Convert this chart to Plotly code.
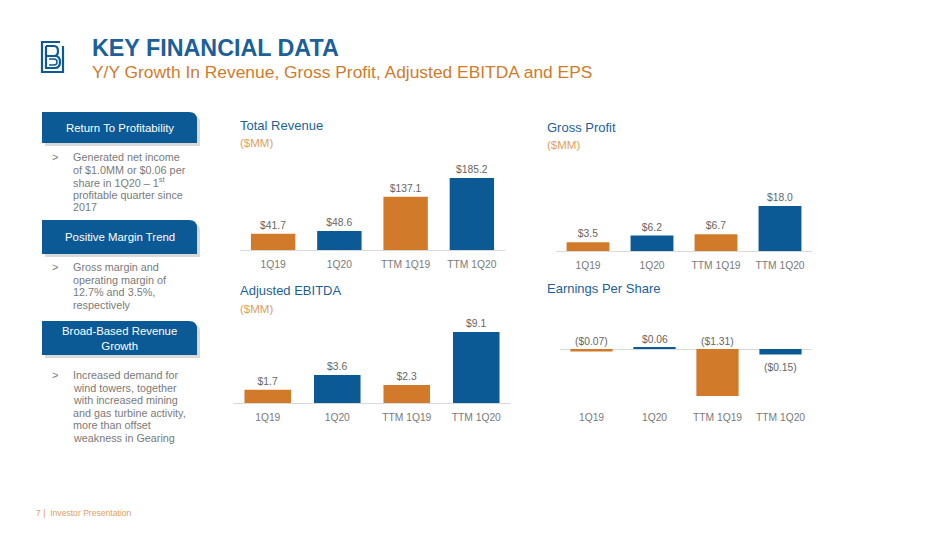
import plotly.graph_objects as go

# the page body has an 8px margin, so the figure is drawn 8px in from the corner
OFF = 8
W, H = 950 - 2 * OFF, 534 - 2 * OFF

# data
periods = ["1Q19", "1Q20", "TTM 1Q19", "TTM 1Q20"]
revenue = [41.7, 48.6, 137.1, 185.2]
gross_profit = [3.5, 6.2, 6.7, 18.0]
adj_ebitda = [1.7, 3.6, 2.3, 9.1]
eps = [-0.07, 0.06, -1.31, -0.15]

panel_heads = ["Return To Profitability", "Positive Margin Trend", "Broad-Based Revenue<br>Growth"]
panel_text = [
    ["Generated net income", "of $1.0MM or $0.06 per", "share in 1Q20 \u2013 1<sup>st</sup>",
     "profitable quarter since", "2017"],
    ["Gross margin and", "operating margin of", "12.7% and 3.5%,", "respectively"],
    ["Increased demand for", "wind towers, together", "with increased mining",
     "and gas turbine activity,", "more than offset", "weakness in Gearing"],
]

BLUE = "#0b5a95"
ORANGE = "#d17b2a"
TITLE_BLUE = "#1c5f99"
GRAY = "#7a7a7a"
FONT = "Liberation Sans, Arial, sans-serif"
bar_colors = [ORANGE, BLUE, ORANGE, BLUE]


# window pixel -> paper coordinates
def px(x):
    return (x - OFF) / W


def py(y):
    return 1 - (y - OFF) / H


def money(v, d=1):
    s = f"${abs(v):.{d}f}"
    return f"({s})" if v < 0 else s


fig = go.Figure()

# chart boxes: (x0, x1) and (y_bottom, y_top) in window pixels, plus y range
charts = [
    dict(vals=revenue, x=(240, 505), y=(250, 160), yr=(0, 231.5), title="Total Revenue",
         tpos=(238, 125), sub=143),
    dict(vals=gross_profit, x=(556, 812), y=(251, 160), yr=(0, 36.4), title="Gross Profit",
         tpos=(545, 128), sub=145),
    dict(vals=adj_ebitda, x=(233, 511), y=(403, 315), yr=(0, 11.28), title="Adjusted EBITDA",
         tpos=(238, 290), sub=309),
    dict(vals=eps, x=(560, 812), y=(403, 320), yr=(-1.504, 0.81), title="Earnings Per Share",
         tpos=(545, 288), sub=None),
]

annotations = []
for i, c in enumerate(charts):
    n = "" if i == 0 else str(i + 1)
    is_eps = i == 3
    bar = dict(
        x=periods, y=c["vals"], xaxis="x" + n, yaxis="y" + n,
        marker=dict(color=bar_colors, line=dict(width=0)), width=0.67,
        hoverinfo="skip", showlegend=False,
    )
    if not is_eps:
        bar.update(text=[money(v) for v in c["vals"]], textposition="outside", cliponaxis=False,
                   textfont=dict(size=10.3, color="#666666", family=FONT))
    fig.add_trace(go.Bar(**bar))
    fig.layout["xaxis" + n] = dict(
        domain=[px(c["x"][0]), px(c["x"][1])], anchor="y" + n,
        showline=not is_eps, linecolor="#d9d9d9", linewidth=1,
        ticks="outside", ticklen=5, tickcolor="rgba(0,0,0,0)",
        tickfont=dict(size=10.3, color=GRAY, family=FONT),
        showgrid=False, range=[-0.5, 3.5], fixedrange=True,
    )
    fig.layout["yaxis" + n] = dict(
        domain=[py(c["y"][0]), py(c["y"][1])], anchor="x" + n,
        range=list(c["yr"]), showticklabels=False, showgrid=False,
        zeroline=is_eps, zerolinecolor="#d9d9d9", zerolinewidth=1, fixedrange=True,
    )
    annotations.append(dict(
        text=c["title"], x=px(c["tpos"][0]), y=py(c["tpos"][1]), xref="paper", yref="paper",
        xanchor="left", yanchor="middle", showarrow=False,
        font=dict(size=13, color=TITLE_BLUE, family=FONT),
    ))
    if c["sub"]:
        annotations.append(dict(
            text="($MM)", x=px(c["tpos"][0]), y=py(c["sub"]), xref="paper", yref="paper",
            xanchor="left", yanchor="middle", showarrow=False,
            font=dict(size=11.5, color="#e0a060", family=FONT),
        ))

# EPS value labels: most sit above the zero line, last one under its bar
for j, (p, v) in enumerate(zip(periods, eps)):
    below = j == 3
    annotations.append(dict(
        text=money(v, 2), x=p, y=v if below else max(v, 0), xref="x4", yref="y4",
        yanchor="top" if below else "bottom", yshift=-6 if below else 0, showarrow=False,
        font=dict(size=10.3, color="#666666", family=FONT),
    ))

# header
annotations.append(dict(
    text="<b>KEY FINANCIAL DATA</b>", x=px(90), y=py(48), xref="paper", yref="paper",
    xanchor="left", yanchor="middle", showarrow=False,
    font=dict(size=23.3, color=TITLE_BLUE, family=FONT),
))
annotations.append(dict(
    text="Y/Y Growth In Revenue, Gross Profit, Adjusted EBITDA and EPS", x=px(90), y=py(72),
    xref="paper", yref="paper", xanchor="left", yanchor="middle", showarrow=False,
    font=dict(size=17.4, color=ORANGE, family=FONT),
))
annotations.append(dict(
    text="7 |  Investor Presentation", x=px(34), y=py(513), xref="paper", yref="paper",
    xanchor="left", yanchor="middle", showarrow=False,
    font=dict(size=8.6, color="#e0a060", family=FONT),
))

shapes = []


def box_path(x0, y0, x1, y1, r):
    return (f"M {px(x0)},{py(y0)} L {px(x1 - r)},{py(y0)} Q {px(x1)},{py(y0)} {px(x1)},{py(y0 + r)} "
            f"L {px(x1)},{py(y1)} L {px(x0)},{py(y1)} Z")


# left panel boxes (top, bottom, first text line y)
boxes = [(112, 143, 157), (220, 254, 267), (321, 355, 375)]
for (y0, y1, ty), head, lines in zip(boxes, panel_heads, panel_text):
    shapes.append(dict(type="path", path=box_path(45, y0 + 3, 200, y1 + 3, 8), xref="paper",
                       yref="paper", fillcolor="rgba(0,0,0,0.15)", line=dict(width=0)))
    shapes.append(dict(type="path", path=box_path(42, y0, 197, y1, 8), xref="paper",
                       yref="paper", fillcolor=BLUE, line=dict(width=0)))
    annotations.append(dict(
        text=head, x=px(119.5), y=py((y0 + y1) / 2), xref="paper", yref="paper",
        xanchor="center", yanchor="middle", showarrow=False, align="center",
        font=dict(size=11.4, color="white", family=FONT),
    ))
    annotations.append(dict(
        text=">", x=px(50), y=py(ty), xref="paper", yref="paper",
        xanchor="left", yanchor="middle", showarrow=False,
        font=dict(size=11, color=GRAY, family=FONT),
    ))
    for k, line in enumerate(lines):
        annotations.append(dict(
            text=line, x=px(71), y=py(ty + k * 12.6), xref="paper", yref="paper",
            xanchor="left", yanchor="middle", showarrow=False,
            font=dict(size=10.8, color=GRAY, family=FONT),
        ))

# logo: square outline with a stylised B inside
logo = dict(xref="paper", yref="paper", line=dict(color=BLUE, width=2.2))
shapes.append(dict(type="path", path=f"M {px(63)},{py(46)} L {px(63)},{py(72)} L {px(42)},{py(72)} "
                   f"L {px(42)},{py(42)} L {px(60)},{py(42)}", **logo))
shapes.append(dict(type="path", path=f"M {px(46)},{py(46)} L {px(54)},{py(46)} Q {px(58)},{py(46)} "
                   f"{px(58)},{py(51)} Q {px(58)},{py(56)} {px(54)},{py(56)} L {px(46)},{py(56)}", **logo))
shapes.append(dict(type="path", path=f"M {px(46)},{py(46)} L {px(46)},{py(68)} L {px(55)},{py(68)} "
                   f"Q {px(60)},{py(68)} {px(60)},{py(62)} Q {px(60)},{py(56)} {px(55)},{py(56)}", **logo))
shapes.append(dict(type="path", path=f"M {px(49)},{py(59)} L {px(54)},{py(59)} Q {px(57)},{py(59)} "
                   f"{px(57)},{py(62)} Q {px(57)},{py(65)} {px(54)},{py(65)} L {px(49)},{py(65)}",
                   xref="paper", yref="paper", line=dict(color=BLUE, width=1.5)))

fig.update_layout(
    width=W, height=H, margin=dict(l=0, r=0, t=0, b=0),
    paper_bgcolor="white", plot_bgcolor="white",
    annotations=annotations, shapes=shapes, bargap=0.33,
    font=dict(family=FONT),
)

fig.write_html("out.html")
